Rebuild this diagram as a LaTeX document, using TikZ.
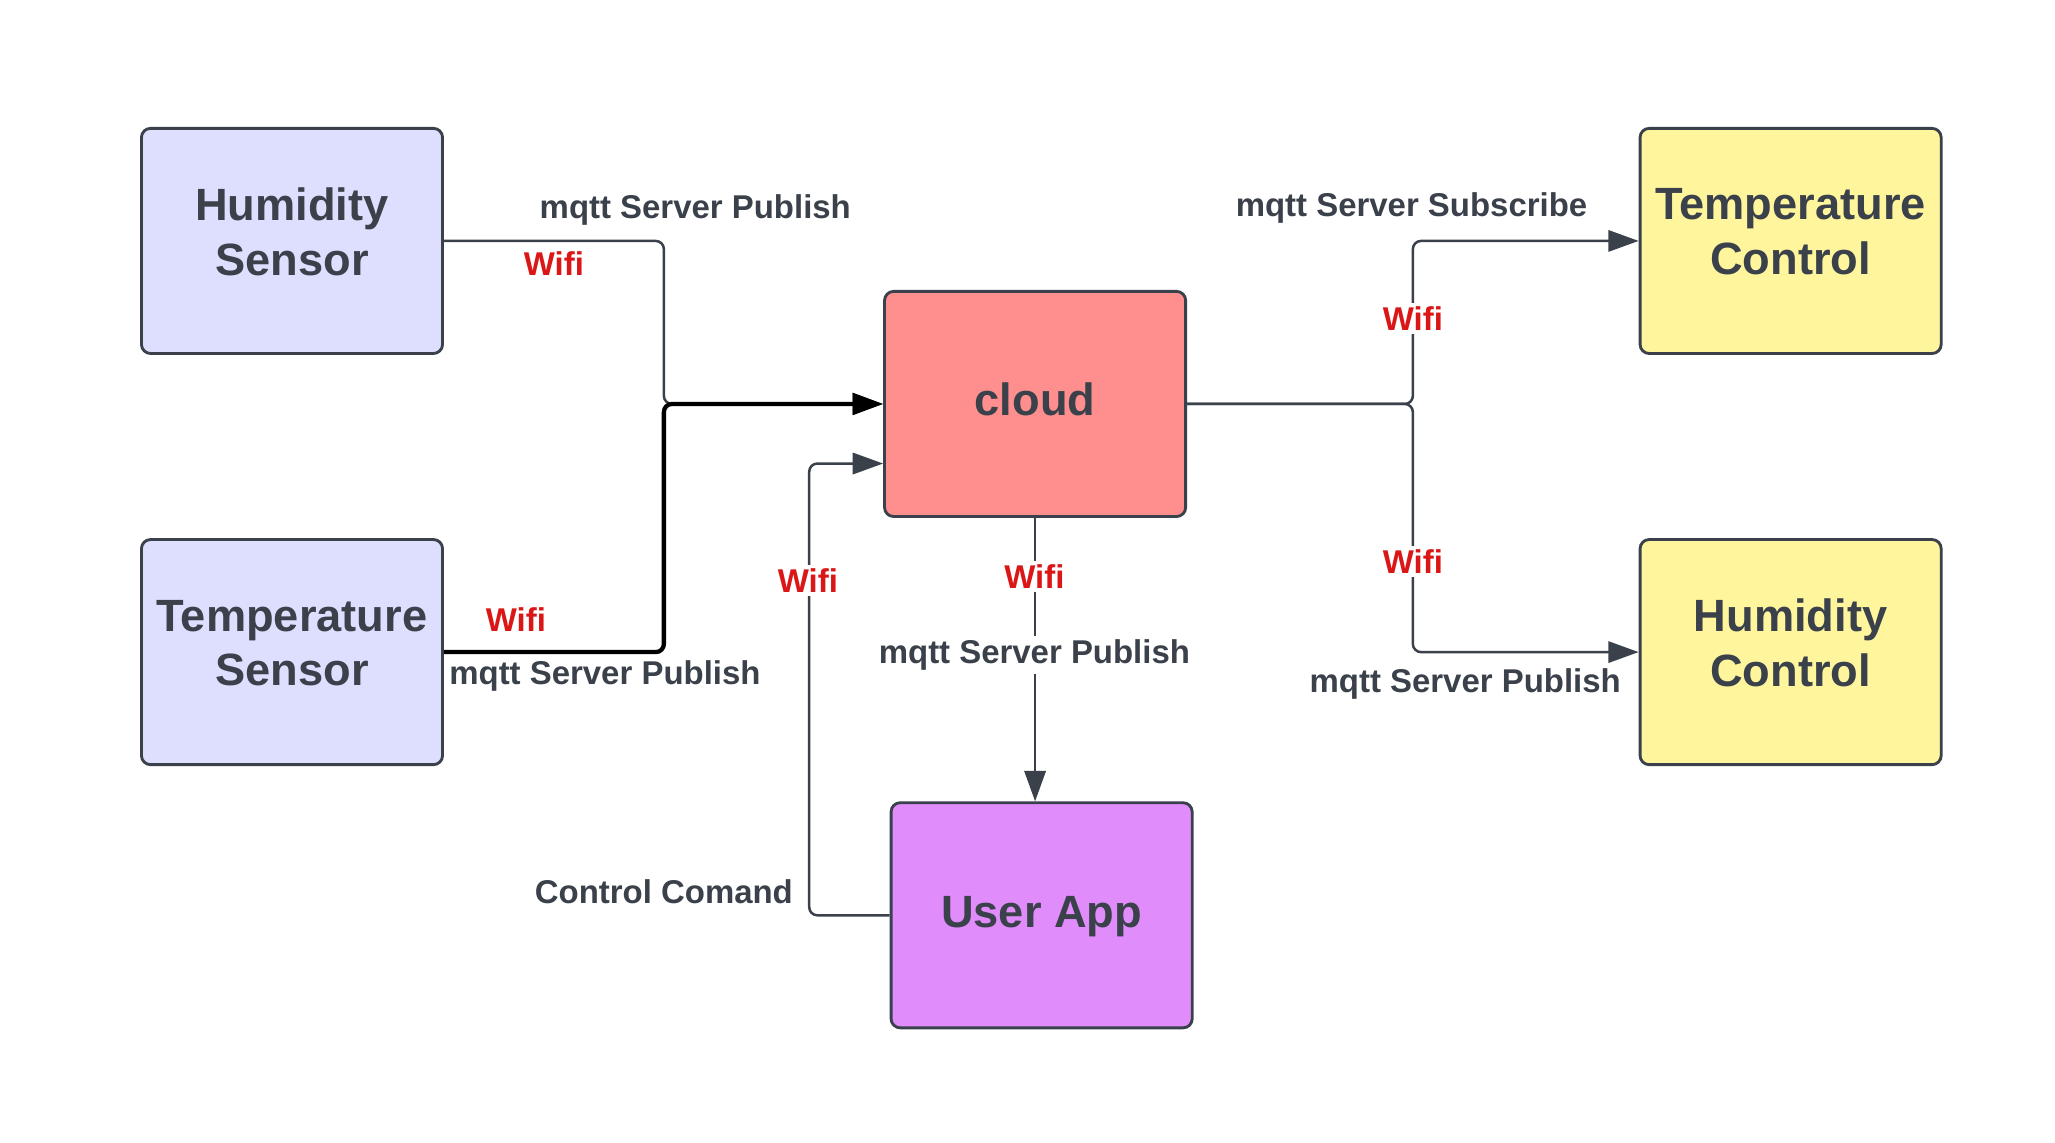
\documentclass[tikz,border=0pt]{standalone}
\usepackage{fontspec}
\setmainfont{Liberation Sans}
\usetikzlibrary{arrows.meta, positioning}
\definecolor{inkgray}{RGB}{58,65,74}
\definecolor{sensorfill}{RGB}{222,223,255}
\definecolor{cloudfill}{RGB}{255,143,143}
\definecolor{controlfill}{RGB}{255,245,157}
\definecolor{appfill}{RGB}{224,140,251}
\definecolor{wifired}{RGB}{218,22,22}

\tikzset{
    unit/.style={draw=inkgray, line width=0.8pt, rounded corners=0.09cm, minimum width=2.972cm, minimum height=2.222cm, inner sep=0pt, align=center, text=inkgray, text depth=0.18cm, font=\fontsize{12.7}{15.4}\selectfont\bfseries},
    wire/.style={draw=inkgray, line width=0.7pt, rounded corners=0.08cm, -{Triangle[length=0.3cm, width=0.21cm]}},
    boldwire/.style={draw=black, line width=1.2pt, rounded corners=0.08cm, -{Triangle[length=0.3cm, width=0.21cm]}},
    tag/.style={text=inkgray, font=\fontsize{9.25}{11}\selectfont\bfseries, inner sep=1pt},
    wifi/.style={text=wifired, font=\fontsize{9.25}{11}\selectfont\bfseries, inner sep=1pt},
}

\begin{document}
\begin{tikzpicture}[x=0.012922cm, y=-0.012922cm]
    \useasboundingbox (0,0) rectangle (1569.4,872.2);
    % blocks
    \node[unit, fill=sensorfill] (hs) at (223,184) {Humidity\\Sensor};
    \node[unit, fill=sensorfill] (ts) at (223,498) {Temperature\\Sensor};
    \node[unit, fill=cloudfill, text depth=0.09cm] (cloud) at (790.5,308.5) {cloud};
    \node[unit, fill=controlfill] (tc) at (1367.5,184) {Temperature\\Control};
    \node[unit, fill=controlfill] (hc) at (1367.5,498) {Humidity\\Control};
    \node[unit, fill=appfill, text depth=0.07cm] (app) at (795.5,699) {User App};

    % bend points
    \coordinate (jl) at (507,308.5);
    \coordinate (ju) at (618,354);
    \coordinate (jr) at (1079,308.5);

    % connectors
    \draw[wire] (hs.east) -| (jl) -- (cloud.west);
    \draw[boldwire] (ts.east) -| (jl) -- (cloud.west);
    \draw[wire] (app.west) -| (ju) -- (cloud.west |- ju);
    \draw[wire] (cloud.south) -- (cloud.south |- app.north);
    \draw[wire] (cloud.east) -- (jr) |- (tc.west);
    \draw[wire] (cloud.east) -- (jr) |- (hc.west);

    % labels
    \node[tag] (l1) at (531,160) {mqtt Server Publish};
    \node[wifi] (w1) at (423,201) {Wifi};
    \node[wifi] (w2) at (394,473) {Wifi};
    \node[tag] (l2) at (462,516) {mqtt Server Publish};
    \node[wifi, fill=white] (w3) at (617,443) {Wifi};
    \node[wifi, fill=white] (w4) at (790,440) {Wifi};
    \node[tag, fill=white] (l3) at (790,500) {mqtt Server Publish};
    \node[tag] (l4) at (507,681) {Control Comand};
    \node[tag] (l5) at (1078,159) {mqtt Server Subscribe};
    \node[wifi, fill=white] (w5) at (1079,243) {Wifi};
    \node[wifi, fill=white] (w6) at (1079,429) {Wifi};
    \node[tag] (l6) at (1119,522) {mqtt Server Publish};
\end{tikzpicture}
\end{document}
